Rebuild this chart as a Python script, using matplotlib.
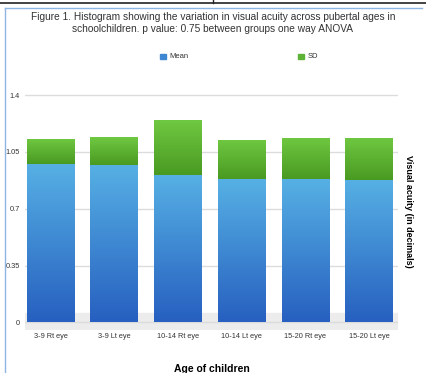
import numpy as np
import matplotlib.pyplot as plt
from matplotlib.lines import Line2D

plt.rcParams['font.family'] = ['Liberation Sans', 'DejaVu Sans']

groups = ["3-9 Rt eye", "3-9 Lt eye", "10-14 Rt eye", "10-14 Lt eye", "15-20 Rt eye", "15-20 Lt eye"]
mean_va = [0.975, 0.97, 0.91, 0.88, 0.88, 0.877]
sd_va = [0.155, 0.17, 0.335, 0.245, 0.255, 0.26]
yticks = [0, 0.35, 0.7, 1.05, 1.4]
ytick_labels = ["0", "0.35", "0.7", "1.05", "1.4"]


def gradient_bars(ax, bars, top_col, bot_col):
    # paint a vertical gradient inside each bar
    grad = np.linspace(0, 1, 64).reshape(-1, 1)
    c1 = np.array(plt.matplotlib.colors.to_rgb(top_col))
    c2 = np.array(plt.matplotlib.colors.to_rgb(bot_col))
    img = c2 * (1 - grad[..., None]) + c1 * grad[..., None]
    for b in bars:
        x0, y0 = b.get_x(), b.get_y()
        w, h = b.get_width(), b.get_height()
        im = ax.imshow(img, extent=[x0, x0 + w, y0, y0 + h], origin='lower',
                       aspect='auto', zorder=b.get_zorder() + 0.1)
        im.set_clip_path(b)


fig = plt.figure(figsize=(4.26, 3.73), dpi=100)
ax = fig.add_axes([0.059, 0.114, 0.875, 0.64])

x = np.arange(len(groups))
b1 = ax.bar(x, mean_va, width=0.75, color='#3d86d2', zorder=3)
b2 = ax.bar(x, sd_va, bottom=mean_va, width=0.75, color='#5cb336', zorder=3)
gradient_bars(ax, b1, '#56b0e4', '#2760c0')
gradient_bars(ax, b2, '#6fc841', '#4a9a22')

ax.set_xlim(-0.4, 5.45)
ax.set_ylim(-0.05, 1.42)
ax.set_yticks(yticks)
ax.set_yticklabels(ytick_labels)
ax.yaxis.grid(True, color='#dcdcdc', lw=1)
ax.set_axisbelow(True)
ax.axhspan(-0.05, 0.06, color='#ececec', zorder=0)
for s in ax.spines.values():
    s.set_visible(False)
ax.tick_params(length=0, labelsize=5.3, colors='#333333', pad=2)
ax.tick_params(axis='y', pad=4)
ax.set_xticks(x)
ax.set_xticklabels(groups)

ax.set_xlabel("Age of children", fontsize=7.5, fontweight='bold', labelpad=17)
ax.yaxis.set_label_position('right')
ax.set_ylabel("Visual acuity (in decimals)", fontsize=6.5, fontweight='bold',
              rotation=-90, labelpad=11)

fig.text(0.5, 0.967, "Figure 1. Histogram showing the variation in visual acuity across pubertal ages in\n"
         "schoolchildren. p value: 0.75 between groups one way ANOVA",
         ha='center', va='top', fontsize=7.3, color='#333333', linespacing=1.2)

# legend
fig.patches.append(plt.Rectangle((0.376, 0.842), 0.013, 0.012, transform=fig.transFigure,
                                 color='#3d86d2', figure=fig))
fig.text(0.398, 0.848, "Mean", fontsize=5.5, va='center', color='#333333')
fig.patches.append(plt.Rectangle((0.700, 0.842), 0.013, 0.012, transform=fig.transFigure,
                                 color='#5cb336', figure=fig))
fig.text(0.722, 0.848, "SD", fontsize=5.5, va='center', color='#333333')

# page borders
fig.add_artist(Line2D([0, 1], [0.992, 0.992], color='#222222', lw=1.2))
fig.add_artist(Line2D([0.5, 0.5], [0.992, 1.0], color='#222222', lw=1))
fig.add_artist(Line2D([0.012, 0.99], [0.979, 0.979], color='#8db4e2', lw=1))
fig.add_artist(Line2D([0.012, 0.012], [0.0, 0.979], color='#8db4e2', lw=1))

fig.savefig("out.png", dpi=100)
